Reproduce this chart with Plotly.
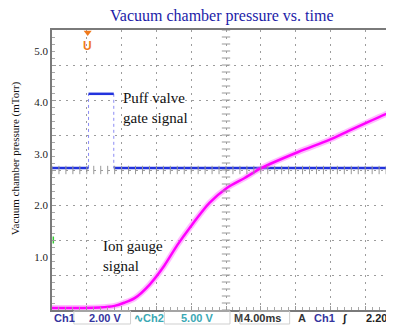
import numpy as np
import plotly.graph_objects as go

# ---------------- data ----------------
time_ms = [0, 5.5, 7.2, 8.3, 9.5, 11.2, 12.9, 14.4, 15.8, 18.1, 20.1, 22.1, 24.1,
           28.3, 31.8, 34.1, 36.3, 39.1, 40.0]
ion_gauge_mtorr = [0.01, 0.02, 0.05, 0.11, 0.20, 0.46, 0.83, 1.23, 1.56, 2.05, 2.34,
                   2.53, 2.73, 3.04, 3.27, 3.45, 3.62, 3.83, 3.89]

gate_on_ms = 4.2
gate_off_ms = 7.1
gate_low = 2.73
gate_high = 4.17
trace_end_ms = 40.0

trigger_ms = 4.1
ytick_vals = [1, 2, 3, 4, 5]
ytick_text = ["1.0", "2.0", "3.0", "4.0", "5.0"]

# scope screen: 10 x 4 ms horizontal divisions, 8 vertical divisions
ms_per_div = 4.0
x_range = [0, 40]
y_range = [-0.03, 5.41]
div_range = [0, 8]

# page offset of the figure inside the browser (default body margin)
OFF = 8
PL, PT, PW, PH = 52, 30, 350, 280   # plot area in screen pixels


def px2paper(px):
    return (px - PL) / PW


def py2paper(py):
    return (PT + PH - py) / PH


# ---------------- figure ----------------
fig = go.Figure()

# centre crosshair tick marks (graticule)
ch_y = np.arange(0, 8.001, 0.2)
fig.add_trace(go.Scatter(
    x=[20] * len(ch_y), y=ch_y, yaxis="y2", mode="markers",
    marker=dict(symbol="line-ew", size=6, line=dict(width=1, color="#999999")),
    hoverinfo="skip"))
ch_x = np.arange(0, 40.01, 0.8)
fig.add_trace(go.Scatter(
    x=ch_x, y=[4] * len(ch_x), yaxis="y2", mode="markers",
    marker=dict(symbol="line-ns", size=6, line=dict(width=1, color="#999999")),
    hoverinfo="skip"))

# gate signal: thin dotted edges + thick levels
fig.add_trace(go.Scatter(
    x=[gate_on_ms, gate_on_ms, None, gate_off_ms, gate_off_ms],
    y=[gate_low, gate_high, None, gate_high, gate_low],
    mode="lines", line=dict(color="#8c8cf5", width=1, dash="dot"),
    hoverinfo="skip"))
fig.add_trace(go.Scatter(
    x=[0, gate_on_ms, None, gate_on_ms, gate_off_ms, None, gate_off_ms, trace_end_ms],
    y=[gate_low, gate_low, None, gate_high, gate_high, None, gate_low, gate_low],
    mode="lines", line=dict(color="#2233dd", width=2.5)))

# ion gauge signal (halo + core)
fig.add_trace(go.Scatter(
    x=time_ms, y=ion_gauge_mtorr, mode="lines",
    line=dict(color="rgba(255,120,255,0.5)", width=6, shape="spline", smoothing=0.8),
    hoverinfo="skip"))
fig.add_trace(go.Scatter(
    x=time_ms, y=ion_gauge_mtorr, mode="lines",
    line=dict(color="#ff00ff", width=2.5, shape="spline", smoothing=0.8)))

# trigger position marker
fig.add_trace(go.Scatter(
    x=[trigger_ms], y=[7.93], yaxis="y2", mode="markers",
    marker=dict(symbol="triangle-down", size=7, color="#f07a1c"),
    hoverinfo="skip"))

# small channel reference markers
fig.add_trace(go.Scatter(
    x=[38.85], y=[3.43], mode="markers",
    marker=dict(symbol="triangle-left", size=4, color="#2233dd"), hoverinfo="skip"))
fig.add_trace(go.Scatter(
    x=[0.15], y=[1.33], mode="markers",
    marker=dict(symbol="line-ns", size=5, line=dict(width=1.5, color="#33cc33")),
    hoverinfo="skip"))

grid_style = dict(showgrid=True, gridcolor="#9c9c9c", gridwidth=1, griddash="2px,5px")

fig.update_layout(
    width=394, height=325,
    margin=dict(l=PL - OFF, r=394 - (PL - OFF) - PW, t=PT - OFF,
                b=325 - (PT - OFF) - PH),
    paper_bgcolor="white", plot_bgcolor="white",
    showlegend=False,
    xaxis=dict(range=x_range, dtick=ms_per_div, tick0=0, showticklabels=False,
               zeroline=False, showline=True, linecolor="#7a7a7a", linewidth=2,
               mirror=True, ticks="inside", ticklen=4, tickcolor="#9a9a9a",
               minor=dict(dtick=ms_per_div / 5, ticks="inside", ticklen=3,
                          tickcolor="#a8a8a8", showgrid=False),
               **grid_style),
    yaxis=dict(range=y_range, tickvals=ytick_vals, ticktext=ytick_text,
               showgrid=False, zeroline=False, showline=False, ticks="",
               ticklabelstandoff=3,
               tickfont=dict(family="Liberation Serif", size=11, color="#222222")),
    yaxis2=dict(overlaying="y", side="left", range=div_range, dtick=1, tick0=0,
                showticklabels=False, zeroline=False, showline=True,
                linecolor="#7a7a7a", linewidth=2, mirror=True,
                ticks="inside", ticklen=4, tickcolor="#9a9a9a",
                minor=dict(dtick=0.2, ticks="inside", ticklen=3,
                           tickcolor="#a8a8a8", showgrid=False),
                **grid_style),
)

ann = []
# title
ann.append(dict(text="Vacuum chamber pressure vs. time", xref="paper", yref="paper",
                x=px2paper(222), y=py2paper(16), xanchor="center", yanchor="middle",
                showarrow=False,
                font=dict(family="Liberation Serif", size=16, color="#1c1ca8")))
# y axis title
ann.append(dict(text="Vacuum chamber pressure (mTorr)", xref="paper", yref="paper",
                x=px2paper(15), y=py2paper(158), xanchor="center",
                yanchor="middle", textangle=-90, showarrow=False,
                font=dict(family="Liberation Serif", size=11, color="#111111")))
# in-plot labels
ann.append(dict(text="Puff valve<br>gate signal", x=7.9, y=3.9, xref="x", yref="y",
                xanchor="left", yanchor="middle", align="left", showarrow=False,
                font=dict(family="Liberation Serif", size=15, color="#111111")))
ann.append(dict(text="Ion gauge<br>signal", x=5.6, y=1.02, xref="x", yref="y",
                xanchor="left", yanchor="middle", align="left", showarrow=False,
                font=dict(family="Liberation Serif", size=15, color="#111111")))
# trigger marker "U"
ann.append(dict(text="<b>U</b>", x=trigger_ms, y=7.55, xref="x", yref="y2",
                xanchor="center", yanchor="middle", showarrow=False,
                font=dict(family="Liberation Sans", size=12, color="#f07a1c")))

# status bar
status = [("Ch1", 52, "#34349e"), ("2.00 V", 87, "#34349e"),
          ("∿Ch2", 132, "#3aa8b4"), ("5.00 V", 180, "#3aa8b4"),
          ("M", 233, "#444444"), ("4.00ms", 243, "#333333"), ("A", 297, "#333333"),
          ("Ch1", 313, "#34349e"), ("∫", 342, "#222222"), ("2.20", 366, "#222222")]
for txt, px, col in status:
    ann.append(dict(text="<b>%s</b>" % txt, xref="paper", yref="paper",
                    x=px2paper(px), y=py2paper(318), xanchor="left",
                    yanchor="middle", showarrow=False,
                    font=dict(family="Liberation Sans", size=11, color=col)))
fig.update_layout(annotations=ann)

shapes = []
for x0, x1 in [(74, 131), (165, 231), (241, 291)]:
    shapes.append(dict(type="rect", xref="paper", yref="paper",
                       x0=px2paper(x0), x1=px2paper(x1),
                       y0=py2paper(324), y1=py2paper(311),
                       line=dict(color="#cfcfcf", width=1)))
fig.update_layout(shapes=shapes)

fig.write_html("out.html")
